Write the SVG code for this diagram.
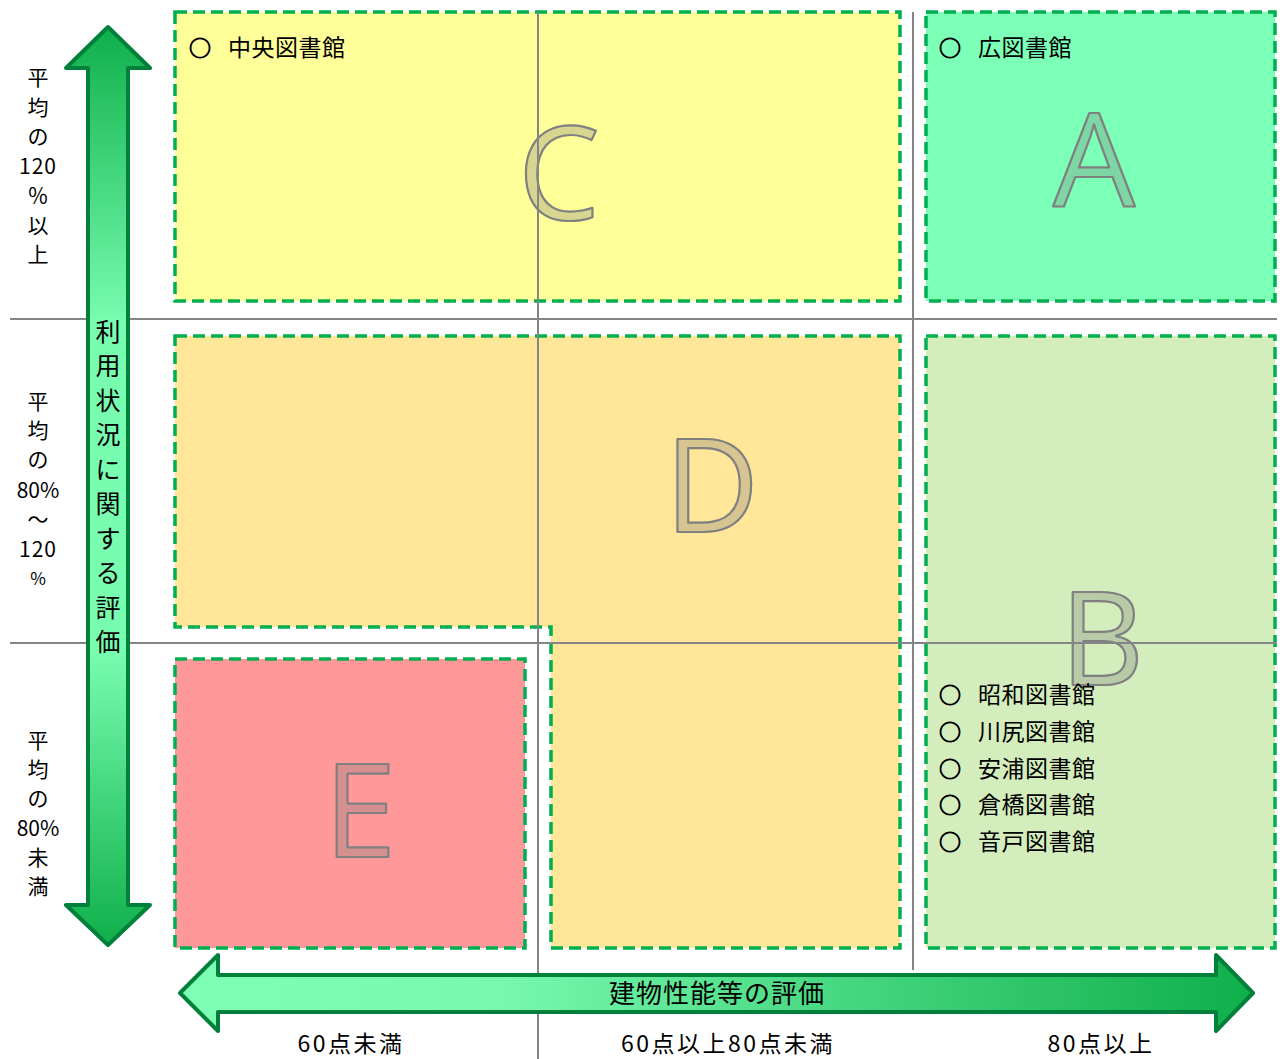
<svg xmlns="http://www.w3.org/2000/svg" width="1282" height="1059" viewBox="0 0 1282 1059">
<defs>
<linearGradient id="gv" gradientUnits="userSpaceOnUse" x1="0" y1="27" x2="0" y2="945">
<stop offset="0" stop-color="#0FAF4B"/>
<stop offset="0.32" stop-color="#78FCB0"/>
<stop offset="0.68" stop-color="#78FCB0"/>
<stop offset="1" stop-color="#0FAF4B"/>
</linearGradient>
<linearGradient id="gh" gradientUnits="userSpaceOnUse" x1="180" y1="0" x2="1253" y2="0">
<stop offset="0" stop-color="#7DFFB5"/>
<stop offset="0.3" stop-color="#76F8AE"/>
<stop offset="1" stop-color="#0FAF4B"/>
</linearGradient>
<style>
.box{stroke:#00B050;stroke-width:3.5;stroke-dasharray:12 6}
.grid{stroke:#858585;stroke-width:2;fill:none}
.big{font-family:"Open Sans","Noto Sans",sans-serif;font-size:130px;fill:#808080;fill-opacity:0.32;stroke:#808080;stroke-width:2.2;stroke-linejoin:round;text-anchor:middle}
.lbl{font-family:"Noto Sans CJK JP","Noto Sans",sans-serif;font-size:23px;letter-spacing:0.5px;fill:#000}
.o{font-family:"Noto Sans CJK JP","Noto Sans",sans-serif;font-size:22px;fill:#000;stroke:#000;stroke-width:0.9}
.ax{font-family:"Noto Sans CJK JP","Noto Sans",sans-serif;font-size:21px;fill:#000;text-anchor:middle}
.va{font-family:"Noto Sans CJK JP",sans-serif;font-size:25px;fill:#000;text-anchor:middle}
.ha{font-family:"Noto Sans CJK JP",sans-serif;font-size:26px;fill:#000;text-anchor:middle;letter-spacing:1px}
.bt{font-family:"Noto Sans CJK JP","Noto Sans",sans-serif;font-size:23px;fill:#000;text-anchor:middle;letter-spacing:2.5px}
.arrow{stroke:#00803A;stroke-width:4;stroke-linejoin:round}
</style>
</defs>
<g id="boxC"><rect class="box" x="175" y="12" width="725" height="289" fill="#FFFF99"/></g>
<g id="boxA"><rect class="box" x="926" y="12" width="349" height="289" fill="#7CFFB6"/></g>
<g id="boxD"><path class="box" d="M175,336 H900 V948 H551 V627 H175 Z" fill="#FFE699"/></g>
<g id="boxB"><rect class="box" x="926" y="336" width="349" height="612" fill="#D4EDBC"/></g>
<g id="boxE"><rect class="box" x="175" y="659" width="350" height="289" fill="#FF9999"/></g>
<g id="letters">
<text class="big" x="559" y="220">C</text>
<text class="big" x="1094" y="207">A</text>
<text class="big" x="712" y="532">D</text>
<text class="big" x="1102" y="685">B</text>
<text class="big" x="360" y="857">E</text>
</g>
<g id="connectors">
<line class="grid" x1="10" y1="319" x2="1277" y2="319"/>
<line class="grid" x1="10" y1="643" x2="1277" y2="643"/>
<line class="grid" x1="538" y1="12" x2="538" y2="1059"/>
<line class="grid" x1="913" y1="12" x2="913" y2="970"/>
</g>
<g id="labels">
<text class="o" x="189" y="56">○</text><text class="lbl" x="228" y="56">中央図書館</text>
<text class="o" x="939" y="56">○</text><text class="lbl" x="978" y="56">広図書館</text>
<text class="o" x="939" y="703">○</text><text class="lbl" x="978" y="703">昭和図書館</text>
<text class="o" x="939" y="740">○</text><text class="lbl" x="978" y="740">川尻図書館</text>
<text class="o" x="939" y="777">○</text><text class="lbl" x="978" y="777">安浦図書館</text>
<text class="o" x="939" y="813">○</text><text class="lbl" x="978" y="813">倉橋図書館</text>
<text class="o" x="939" y="850">○</text><text class="lbl" x="978" y="850">音戸図書館</text>
</g>
<g id="axisY">
<path class="arrow" fill="url(#gv)" d="M108,27 L150,68 L128,68 L128,905 L150,905 L108,945 L66,905 L88,905 L88,68 L66,68 Z"/>
<text class="va"><tspan x="108" y="341">利</tspan><tspan x="108" y="375">用</tspan><tspan x="108" y="410">状</tspan><tspan x="108" y="444">況</tspan><tspan x="108" y="479">に</tspan><tspan x="108" y="513">関</tspan><tspan x="108" y="548">す</tspan><tspan x="108" y="582">る</tspan><tspan x="108" y="617">評</tspan><tspan x="108" y="651">価</tspan></text>
</g>
<g id="axisYlabels">
<text class="ax"><tspan x="38" y="85">平</tspan><tspan x="38" y="115">均</tspan><tspan x="38" y="144">の</tspan><tspan x="38" y="174" letter-spacing="1">120</tspan><tspan x="38" y="203">％</tspan><tspan x="38" y="233">以</tspan><tspan x="38" y="262">上</tspan></text>
<text class="ax"><tspan x="38" y="409">平</tspan><tspan x="38" y="438">均</tspan><tspan x="38" y="467">の</tspan><tspan x="38" y="498">80%</tspan><tspan x="38" y="527">～</tspan><tspan x="38" y="557" letter-spacing="1">120</tspan><tspan x="38" y="585" font-size="17">%</tspan></text>
<text class="ax"><tspan x="38" y="748">平</tspan><tspan x="38" y="777">均</tspan><tspan x="38" y="806">の</tspan><tspan x="38" y="836">80%</tspan><tspan x="38" y="865">未</tspan><tspan x="38" y="894">満</tspan></text>
</g>
<g id="axisX">
<path class="arrow" fill="url(#gh)" d="M180,993 L218,955 L218,975 L1216,975 L1216,955 L1253,993 L1216,1031 L1216,1012 L218,1012 L218,1031 Z"/>
<text class="ha" x="717" y="1003">建物性能等の評価</text>
</g>
<g id="axisXlabels">
<text class="bt" x="351" y="1052">60点未満</text>
<text class="bt" x="728" y="1052">60点以上80点未満</text>
<text class="bt" x="1101" y="1052">80点以上</text>
</g>
</svg>
